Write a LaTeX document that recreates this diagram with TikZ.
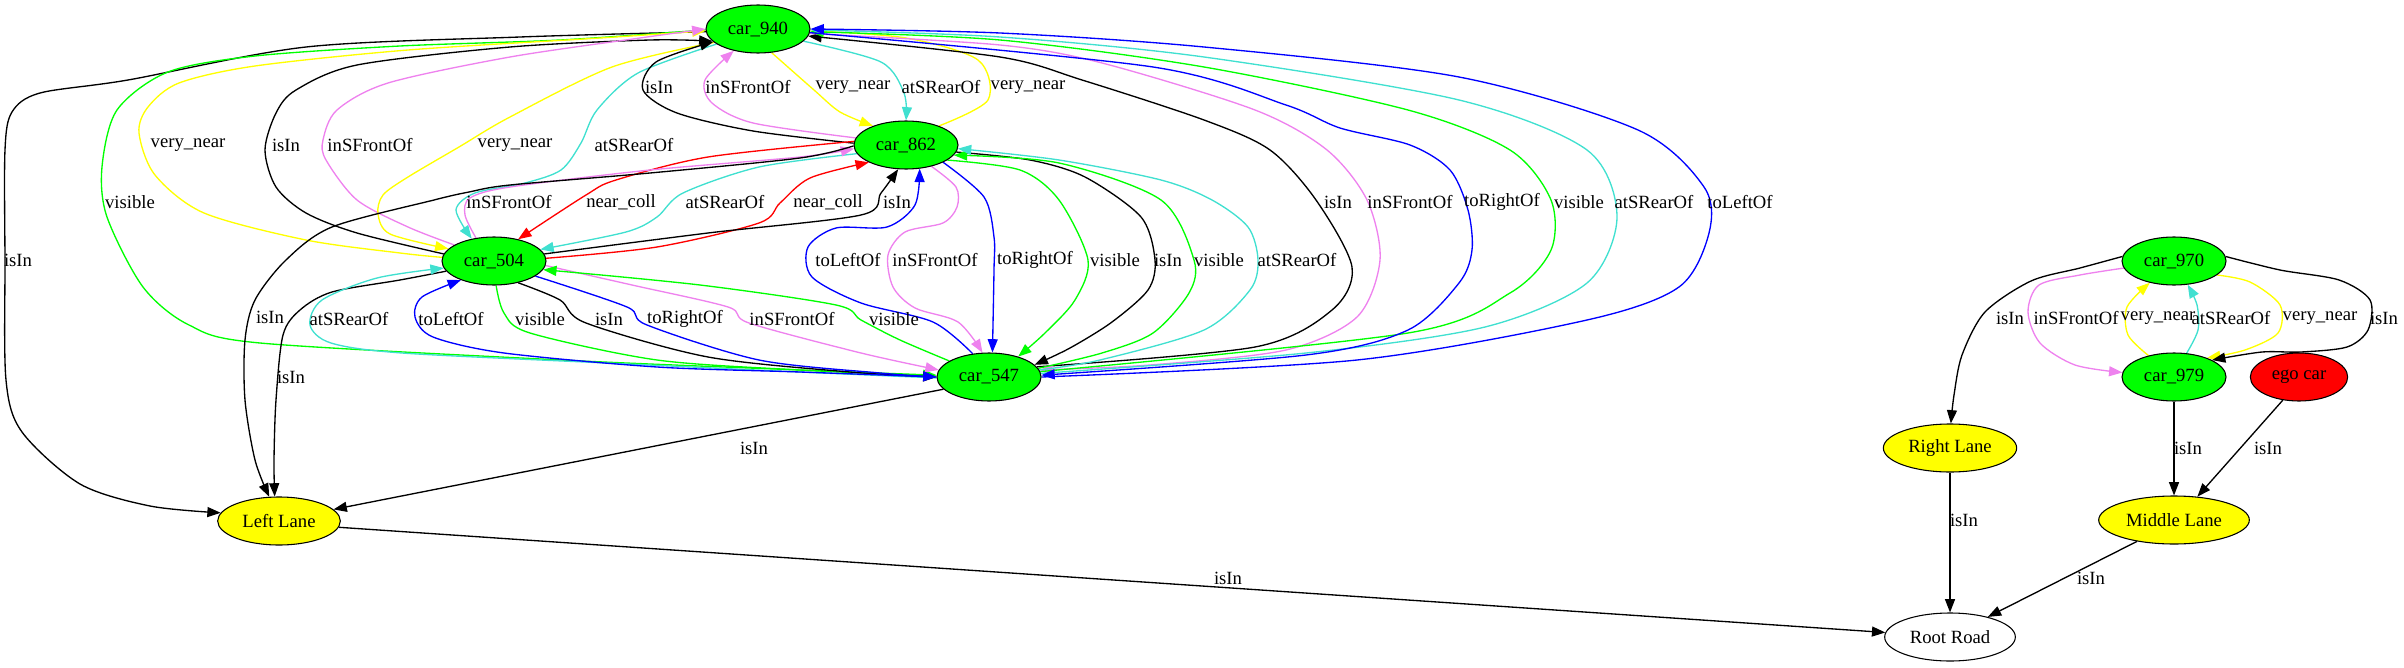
\documentclass[tikz,border=0pt]{standalone}
\usepackage{fontspec}
\setmainfont{Liberation Serif}
\newfontfamily\gvfont{Liberation Serif}
\usetikzlibrary{shapes.geometric,arrows.meta}
\pgfdeclarelayer{bg}
\pgfsetlayers{bg,main}
\definecolor{gvgreen}{RGB}{0,255,0}
\definecolor{gvyellow}{RGB}{255,255,0}
\definecolor{gvred}{RGB}{255,0,0}
\definecolor{gvblue}{RGB}{0,0,255}
\definecolor{gvviolet}{RGB}{238,130,238}
\definecolor{gvturq}{RGB}{64,224,208}
\tikzset{
  gvnode/.style={ellipse, draw=black, line width=0.8pt, minimum height=36pt, inner sep=0pt, font=\gvfont\fontsize{14}{16}\selectfont},
  car/.style={gvnode, fill=gvgreen, minimum width=78pt},
  lane/.style={gvnode, fill=gvyellow},
  gvedge/.style={line width=1pt, -{Triangle[length=10pt,width=7.5pt]}},
  sm/.style={smooth, tension=0.5},
  lbl/.style={inner sep=0pt, font=\gvfont\fontsize{14}{16}\selectfont}
}
\begin{document}
\begin{tikzpicture}[x=0.75pt,y=-0.75pt]
\useasboundingbox (0,0) rectangle (2404,667);
% nodes
\node[car] (c940) at (758,29) {car\_940};
\node[car] (c862) at (906,145) {car\_862};
\node[car] (c504) at (494,261) {car\_504};
\node[car] (c547) at (989,377) {car\_547};
\node[lane, minimum width=92pt] (LL) at (279,521) {Left Lane};
\node[car] (c970) at (2174,261) {car\_970};
\node[car] (c979) at (2174,377) {car\_979};
\node[gvnode, fill=gvred, minimum width=73pt] (ego) at (2299,377) {ego car};
\node[lane, minimum width=100pt] (RL) at (1950,448) {Right Lane};
\node[lane, minimum width=113pt] (ML) at (2174,520) {Middle Lane};
\node[gvnode, fill=white, minimum width=98pt] (RR) at (1950,637) {Root Road};

\begin{pgfonlayer}{bg}
% car_940 <-> Left Lane / car_504 / car_547 (left side)
\draw[gvedge] plot[sm] coordinates {(c940.183) (520,37) (306,47) (128,80) (40,93) (12,112) (5,150) (5,260) (6,380) (22,432) (80,484) (150,506) (LL.172)};
\draw[gvedge, gvgreen] plot[sm] coordinates {(c940.181) (560,40) (400,46) (255,56) (168,72) (117,110) (102,167) (107,217) (143,287) (189,325) (260,343) (561,360) (800,370) (c547.178)};
\draw[gvedge, gvyellow] plot[sm] coordinates {(c504.176) (400,253) (306,240) (204,213) (155,175) (139,133) (148,107) (179,83) (255,66) (408,50) (600,38) (c940.182)};
\draw[gvedge] plot[sm] coordinates {(c504.172) (357,233) (306,213) (276,187) (265,150) (276,113) (296,90) (357,65) (510,47) (650,40) (c940.195)};
\draw[gvedge, gvviolet] plot[sm] coordinates {(c504.158) (408,227) (357,200) (326,160) (323,140) (337,110) (388,83) (510,57) (640,38) (c940.180)};
\draw[gvedge, gvyellow] plot[sm] coordinates {(c940.197) (612,67) (510,117) (459,147) (408,177) (383,195) (378,214) (390,234) (c504.165)};
\draw[gvedge, gvturq] plot[sm] coordinates {(c940.200) (638,73) (597,110) (581,143) (561,170) (525,183) (475,193) (456,210) (c504.135)};
% car_940 <-> car_862
\draw[gvedge] plot[sm] coordinates {(c862.178) (753,131) (677,113) (643,90) (656,62) (c940.196)};
\draw[gvedge, gvviolet] plot[sm] coordinates {(c862.172) (753,123) (712,103) (705,80) (c940.222)};
\draw[gvedge, gvyellow] plot[sm] coordinates {(c940.300) (814,90) (840,112) (c862.150)};
\draw[gvedge, gvturq] plot[sm] coordinates {(c940.345) (881,62) (904,93) (c862.90)};
\draw[gvedge, gvyellow] plot[sm] coordinates {(c862.30) (988,100) (978,60) (906,38) (c940.358)};
% car_940 <-> car_547 (right side)
\draw[gvedge] plot[sm] coordinates {(c547.12) (1255,347) (1332,310) (1352,267) (1316,200) (1270,150) (1204,120) (1082,80) (1000,57) (c940.352)};
\draw[gvedge, gvviolet] plot[sm] coordinates {(c940.355) (1000,45) (1102,63) (1255,110) (1327,150) (1367,200) (1380,260) (1357,317) (1286,350) (1150,365) (c547.8)};
\draw[gvedge, gvgreen] plot[sm] coordinates {(c547.6) (1408,333) (1510,293) (1551,250) (1551,200) (1510,150) (1408,110) (1204,67) (1000,40) (c940.357)};
\draw[gvedge, gvturq] plot[sm] coordinates {(c547.4) (1306,353) (1485,327) (1587,283) (1617,217) (1587,150) (1459,100) (1204,57) (1000,37) (c940.359)};
% car_862 <-> car_547
\draw[gvedge, gvviolet] plot[sm] coordinates {(c862.320) (956,187) (957,207) (943,223) (905,232) (888,255) (893,287) (915,308) (958,322) (c547.105)};
\draw[gvedge, gvgreen] plot[sm] coordinates {(c862.340) (1020,170) (1059,200) (1088,260) (1075,300) (1045,333) (c547.35)};
\draw[gvedge] plot[sm] coordinates {(c862.352) (1030,160) (1085,177) (1141,217) (1155,260) (1148,290) (1112,322) (1070,348) (c547.15)};
\draw[gvedge, gvgreen] plot[sm] coordinates {(c547.10) (1102,353) (1153,333) (1189,293) (1194,260) (1161,200) (1059,163) (c862.348)};
\draw[gvedge, gvturq] plot[sm] coordinates {(c547.8) (1100,360) (1204,330) (1250,290) (1258,260) (1248,227) (1212,200) (1161,180) (1059,160) (c862.356)};
\draw[gvedge, gvblue] plot[sm] coordinates {(c547.125) (933,322) (861,303) (812,277) (808,247) (836,228) (887,227) (915,205) (c862.300)};
\draw[gvedge, gvblue] plot[sm] coordinates {(c862.335) (984,197) (994,237) (994,270) (c547.82)};
% car_862 <-> car_504
\draw[gvedge, gvred] plot[sm] coordinates {(c862.176) (708,157) (616,180) (586,195) (c504.42)};
\draw[gvedge, gvturq] plot[sm] coordinates {(c862.190) (759,167) (683,193) (657,217) (626,232) (c504.14)};
\draw[gvedge, gvred] plot[sm] coordinates {(c504.3) (657,247) (759,223) (780,203) (810,178) (c862.205)};
\draw[gvedge] plot[sm] coordinates {(c504.8) (708,233) (861,215) (881,193) (c862.252)};
\draw[gvedge, gvviolet] plot[sm] coordinates {(c504.128) (465,215) (470,198) (510,187) (650,170) (800,157) (c862.184)};
% to Left Lane
\draw[gvedge] plot[sm] coordinates {(c862.181) (800,158) (650,173) (510,185) (469,192) (434,200) (332,227) (286,260) (255,300) (245,340) (245,400) (255,460) (LL.112)};
\draw[gvedge] plot[sm] coordinates {(c504.192) (400,280) (332,292) (300,310) (283,335) (276,400) (274,460) (LL.100)};
\draw[gvedge] (c547.195) -- (LL.12);
\draw[gvedge] (LL.354) -- (RR.176);
% car_504 <-> car_547
\draw[gvedge, gvturq] plot[sm] coordinates {(c547.181) (800,372) (606,363) (402,353) (331,343) (310,325) (322,300) (377,278) (c504.188)};
\draw[gvedge, gvgreen] plot[sm] coordinates {(c504.275) (504,313) (530,333) (657,360) (800,370) (c547.179)};
\draw[gvedge] plot[sm] coordinates {(c504.318) (560,300) (586,323) (708,357) (850,372) (c547.180)};
\draw[gvedge, gvviolet] plot[sm] coordinates {(c504.355) (632,285) (728,307) (749,323) (861,353) (c547.172)};
\draw[gvedge, gvgreen] plot[sm] coordinates {(c547.158) (900,340) (861,320) (836,305) (700,285) (c504.350)};
\draw[gvedge, gvblue] plot[sm] coordinates {(c547.180) (800,372) (657,367) (504,353) (433,337) (415,317) (422,297) (c504.210)};
\draw[gvedge, gvblue] plot[sm] coordinates {(c504.340) (627,307) (647,325) (759,360) (880,373) (c547.180)};
% blue right-side edges last
\draw[gvedge, gvblue] plot[sm] coordinates {(c940.356) (1153,67) (1286,105) (1340,128) (1410,145) (1450,170) (1468,210) (1472,250) (1459,283) (1408,330) (1306,355) (c547.2)};
\draw[gvedge, gvblue] plot[sm] coordinates {(c547.0) (1357,360) (1587,320) (1679,287) (1709,233) (1704,187) (1638,130) (1459,77) (1204,47) (1000,33) (c940.0)};
% right cluster
\draw[gvedge] plot[sm] coordinates {(c970.175) (2080,268) (2031,281) (1985,312) (1962,355) (1954,395) (RL.88)};
\draw[gvedge, gvviolet] plot[sm] coordinates {(c970.188) (2080,275) (2039,285) (2028,312) (2040,343) (2075,365) (c979.175)};
\draw[gvedge, gvyellow] plot[sm] coordinates {(c979.140) (2128,335) (2127,307) (c970.222)};
\draw[gvedge, gvturq] plot[sm] coordinates {(c979.62) (2198,330) (2197,305) (c970.300)};
\draw[gvedge, gvyellow] plot[sm] coordinates {(c970.342) (2250,282) (2280,305) (2278,333) (2245,350) (c979.30)};
\draw[gvedge] plot[sm] coordinates {(c970.5) (2280,270) (2339,280) (2370,300) (2368,330) (2347,347) (2301,352) (2262,352) (c979.24)};
\draw[gvedge] (c979.south) -- (ML.north);
\draw[gvedge] (ego.235) -- (ML.45);
\draw[gvedge] (RL.south) -- (RR.north);
\draw[gvedge] (ML.210) -- (RR.28);
\end{pgfonlayer}

% labels
\node[lbl] (t1) at (18,260) {isIn};
\node[lbl] (t2) at (130,202) {visible};
\node[lbl] (t3) at (188,145) {very\_near};
\node[lbl] (t4) at (286,145) {isIn};
\node[lbl] (t5) at (370,145) {inSFrontOf};
\node[lbl] (t6) at (515,145) {very\_near};
\node[lbl] (t7) at (634,145) {atSRearOf};
\node[lbl] (t8) at (659,87) {isIn};
\node[lbl] (t9) at (748,87) {inSFrontOf};
\node[lbl] (t10) at (853,87) {very\_near};
\node[lbl] (t11) at (941,87) {atSRearOf};
\node[lbl] (t12) at (1028,87) {very\_near};
\node[lbl] (t13) at (509,202) {inSFrontOf};
\node[lbl] (t14) at (621,202) {near\_coll};
\node[lbl] (t15) at (725,202) {atSRearOf};
\node[lbl] (t16) at (828,202) {near\_coll};
\node[lbl] (t17) at (897,202) {isIn};
\node[lbl] (t18) at (1338,202) {isIn};
\node[lbl] (t19) at (1410,202) {inSFrontOf};
\node[lbl] (t20) at (1502,202) {toRightOf};
\node[lbl] (t21) at (1579,202) {visible};
\node[lbl] (t22) at (1654,202) {atSRearOf};
\node[lbl] (t23) at (1740,202) {toLeftOf};
\node[lbl] (t24) at (848,260) {toLeftOf};
\node[lbl] (t25) at (935,260) {inSFrontOf};
\node[lbl] (t26) at (1035,260) {toRightOf};
\node[lbl] (t27) at (1115,260) {visible};
\node[lbl] (t28) at (1168,260) {isIn};
\node[lbl] (t29) at (1219,260) {visible};
\node[lbl] (t30) at (1297,260) {atSRearOf};
\node[lbl] (t31) at (270,317) {isIn};
\node[lbl] (t32) at (349,319) {atSRearOf};
\node[lbl] (t33) at (451,319) {toLeftOf};
\node[lbl] (t34) at (540,319) {visible};
\node[lbl] (t35) at (609,319) {isIn};
\node[lbl] (t36) at (685,319) {toRightOf};
\node[lbl] (t37) at (792,319) {inSFrontOf};
\node[lbl] (t38) at (894,319) {visible};
\node[lbl] (t39) at (291,377) {isIn};
\node[lbl] (t40) at (754,448) {isIn};
\node[lbl] (t41) at (1228,578) {isIn};
\node[lbl] (t42) at (2010,318) {isIn};
\node[lbl] (t43) at (2076,318) {inSFrontOf};
\node[lbl] (t44) at (2158,318) {very\_near};
\node[lbl] (t45) at (2231,318) {atSRearOf};
\node[lbl] (t46) at (2320,318) {very\_near};
\node[lbl] (t47) at (2384,318) {isIn};
\node[lbl] (t48) at (2188,448) {isIn};
\node[lbl] (t49) at (2268,448) {isIn};
\node[lbl] (t50) at (1964,520) {isIn};
\node[lbl] (t51) at (2091,578) {isIn};
\end{tikzpicture}
\end{document}
